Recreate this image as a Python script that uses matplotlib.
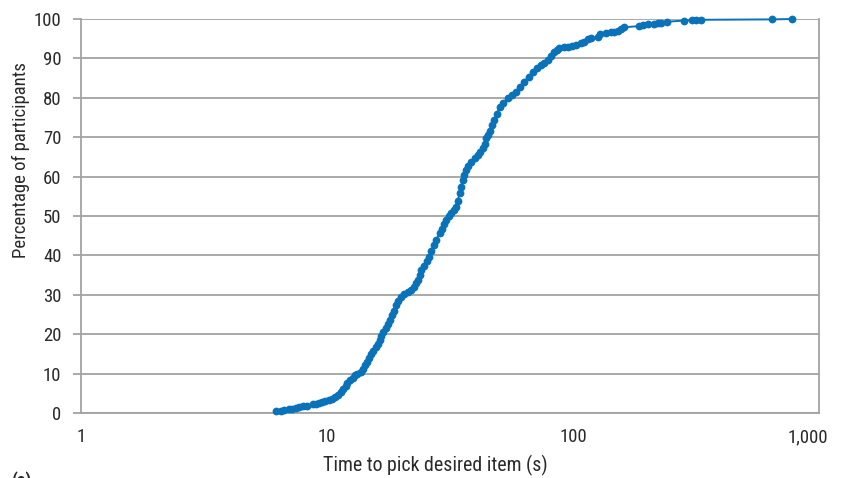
import matplotlib
matplotlib.use("Agg")
import matplotlib.pyplot as plt
from matplotlib.ticker import FixedLocator, NullLocator
from matplotlib.transforms import ScaledTranslation

# Time (s) to pick desired item
times = [6.2, 6.5, 6.7, 7.0, 7.2, 7.5, 7.7, 8.0, 8.3, 8.8, 9.0, 9.3, 9.5, 9.8,
         10.2, 10.5, 10.8, 11.1, 11.4, 11.6, 11.9, 12.1, 12.4, 12.7, 13.0, 13.3,
         13.8, 14.0, 14.3, 14.5, 14.8, 15.1, 15.4, 15.8, 16.1, 16.4, 16.6, 16.9,
         17.3, 17.7, 18.0, 18.4, 18.8, 19.1, 19.4, 20.0, 20.6, 21.3, 22.0, 22.6,
         23.0, 23.4, 23.8, 24.2, 24.8, 25.4, 25.9, 26.5, 27.2, 27.8, 28.7, 29.3,
         29.9, 30.5, 31.2, 32.0, 32.8, 33.5, 34.0, 34.6, 35.0, 35.6, 36.2, 36.8,
         37.6, 38.5, 39.8, 41.0, 42.0, 43.0, 43.7, 44.4, 45.2, 46.0, 46.9, 47.9,
         49.0, 50.3, 52.0, 54.3, 56.5, 58.8, 61.0, 63.5, 66.0, 68.6, 71.5, 74.2,
         76.5, 78.9, 81.5, 84.0, 86.0, 88.0, 91.5, 95.1, 99.0, 102.8, 107.8,
         111.2, 114.7, 118.4, 126, 128.8, 136.3, 142.7, 147.2, 151.8, 156.7,
         161.6, 185.8, 191.7, 201, 213.8, 220.7, 227.7, 240, 283, 304, 316, 331,
         646, 780]

# Cumulative percentage of participants
percent = [0.4, 0.6, 0.8, 0.9, 1.1, 1.3, 1.5, 1.7, 1.9, 2.2, 2.4, 2.6, 2.8, 3.0,
           3.3, 3.5, 4.0, 4.6, 5.3, 6.0, 6.8, 7.6, 8.4, 9.0, 9.6, 10.0,
           10.5, 11.2, 12.2, 13.0, 14.0, 14.9, 15.8, 16.8, 17.6, 18.5, 19.5, 20.6,
           21.6, 22.7, 23.6, 24.8, 26.0, 27.3, 28.5, 29.4, 30.1, 30.8, 31.3, 32.0,
           32.9, 33.8, 35.0, 36.3, 37.4, 38.6, 39.7, 41.0, 42.6, 44.0, 45.6, 46.8,
           47.9, 49.0, 49.9, 50.7, 51.5, 52.4, 53.9, 55.8, 57.4, 59.1, 60.4, 61.7,
           62.8, 63.8, 64.6, 65.5, 66.3, 67.2, 68.4, 69.7, 70.6, 71.7, 73.0, 74.4,
           76.0, 77.7, 78.8, 79.9, 80.7, 81.5, 82.7, 84.1, 85.4, 86.6, 87.5, 88.3,
           88.9, 89.6, 90.7, 91.7, 92.2, 92.6, 92.8, 93.0, 93.2, 93.4, 93.8,
           94.2, 94.8, 95.1, 95.5, 96.2, 96.5, 96.6, 96.8, 97.0, 97.4,
           97.9, 98.2, 98.5, 98.7, 98.7, 98.9, 99.1, 99.3, 99.6, 99.7, 99.8, 99.8,
           99.9, 100.0]

xticks = [1, 10, 100, 1000]
xtick_labels = ["1", "10", "100", "1,000"]
yticks = [0, 10, 20, 30, 40, 50, 60, 70, 80, 90, 100]

plt.rcParams['font.family'] = ['Roboto Condensed', 'Roboto', 'DejaVu Sans']

fig = plt.figure(figsize=(8.5, 4.78), dpi=100)
ax = fig.add_axes([81/850, 1 - 413/478, (819 - 81)/850, (413 - 19)/478])

blue = '#0a72b8'
grey = '#a2a2a2'
txt = '#2a2a2a'

ax.plot(times, percent, color=blue, lw=1.4, marker='o', ms=5.6,
        markeredgewidth=0, zorder=3, clip_on=False)

ax.set_xscale('log')
ax.set_xlim(1, 1000)
ax.set_ylim(0, 100)
ax.xaxis.set_major_locator(FixedLocator(xticks))
ax.xaxis.set_minor_locator(NullLocator())
ax.set_xticklabels(xtick_labels)
ax.set_yticks(yticks)

ax.yaxis.grid(True, color=grey, lw=1.3)
ax.set_axisbelow(True)
for s in ['left', 'bottom', 'right']:
    ax.spines[s].set_color(grey)
    ax.spines[s].set_linewidth(1.3)
ax.spines['top'].set_visible(False)

ax.tick_params(axis='y', length=6, width=1.3, color=grey, labelsize=13.5,
               pad=8, labelcolor=txt)
ax.tick_params(axis='x', length=0, labelsize=13.5, pad=11, labelcolor=txt)

# last x tick label sits slightly inside the plot edge
last = ax.get_xticklabels()[-1]
last.set_transform(last.get_transform() + ScaledTranslation(-11/100, 0, fig.dpi_scale_trans))

ax.set_xlabel("Time to pick desired item (s)", fontsize=14.3, color=txt,
              va='center')
ax.xaxis.set_label_coords((435 - 81) / 738, -(465 - 413) / 394)
ax.set_ylabel("Percentage of participants", fontsize=13.5, color=txt,
              va='center')
ax.yaxis.set_label_coords((21 - 81) / 738, 0.642)

fig.text(12/850, 1 - 471/478, "(a)", fontsize=13, fontweight='bold',
         va='top', ha='left', color=txt)

fig.savefig("out.png", dpi=100)
